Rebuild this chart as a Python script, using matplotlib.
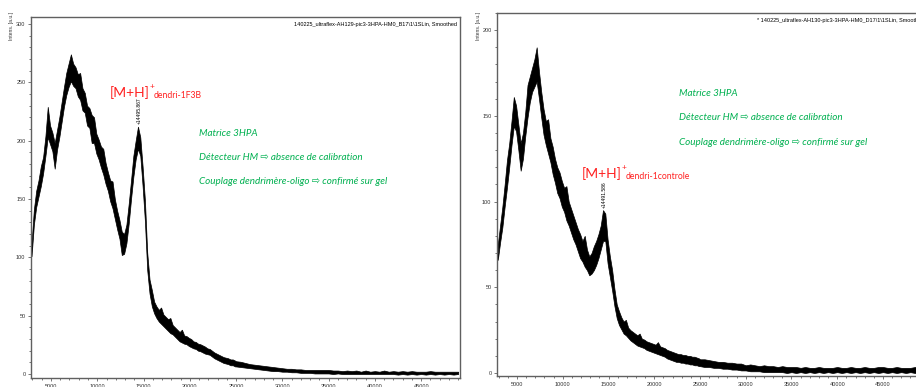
import numpy as np
from matplotlib import pyplot as plt
from matplotlib.ticker import MultipleLocator

W, H = 916, 387

# m/z sampling grid (dense part, then tail)
mz_dense = np.arange(2900, 25000, 250)
mz_tail = np.arange(25000, 49100, 500)
mz = np.concatenate([mz_dense, mz_tail])

# left spectrum: AH129 (dendri-1F3B), low / high edge of the noisy trace
left_lo = [101, 128, 143, 152, 161, 172, 187, 203, 197, 191, 176, 192, 203, 216, 229, 239,
           246, 251, 247, 245, 238, 235, 226, 224, 213, 211, 198, 198, 189, 184, 177, 171,
           163, 157, 148, 142, 133, 124, 116, 102, 103, 112, 129, 150, 169, 184, 193, 187,
           161, 131, 89, 69, 58, 52, 48, 45, 43, 41, 39, 37, 35, 34, 32, 30,
           28, 27, 26, 25.5, 24, 23, 22, 21.5, 20, 19.5, 18.5, 17.5, 17, 16.5, 15, 13.5,
           12.5, 11.5, 10.5, 9.5, 9, 8.5, 7.5, 7.5, 6.5,
           6.5, 6, 5.5, 5, 4.5, 4, 3.5, 3, 2.5, 2.5, 2, 2, 1.5, 1.5, 1, 1,
           1, 0.5, 0.5, 0.5, 0.5, 0, 0.5, 0, 0, 0, 0, 0, 0, 0, 0, 0,
           0, 0, 0, -0.5, 0, -0.5, 0, -0.5, 0, -0.5, 0, -0.5, 0, -0.5, 0, -0.5, 0]
left_hi = [112, 141, 157, 166, 178, 186, 204, 229, 213, 207, 198, 209, 220, 233, 246, 258,
           266, 274, 266, 263, 257, 258, 245, 241, 230, 228, 222, 220, 206, 201, 195, 193,
           181, 173, 166, 165, 150, 140, 132, 122, 120, 128, 146, 166, 187, 200, 212, 203,
           178, 149, 104, 81, 72, 62, 58, 55, 57, 51, 49, 47, 48, 42, 40, 38,
           36, 38, 33, 32.5, 31, 30, 28, 27.5, 26, 25.5, 24.5, 23.5, 22, 21.5, 20, 18.5,
           17.5, 16.5, 15.5, 14.5, 14, 13.5, 12.5, 12.5, 11.5,
           11, 10.5, 9.5, 8.5, 8, 7.5, 7, 6.5, 6, 5.5, 5, 4.5, 4.5, 4, 4, 3.5,
           3.5, 3.5, 3.5, 3.5, 3.5, 3, 3, 2.5, 3, 2.5, 3, 2, 3, 2, 2.5, 2,
           3, 2, 2.5, 2, 2.5, 2, 2.5, 2, 2, 2, 2.5, 2, 2, 2, 2, 2, 2]

# right spectrum: AH130 (dendri-1controle)
right_lo = [66, 76, 85, 97, 108, 120, 133, 144, 141, 130, 118, 125, 138, 149, 158, 164,
            167, 170, 160, 149, 139, 133, 128, 123, 116, 111, 105, 102, 97, 94, 89, 86,
            82, 78, 75, 71, 67, 65, 62, 60, 57, 58, 60, 63, 67, 72, 77, 77,
            64, 56, 48, 39, 32, 28, 25.5, 23, 22, 20.5, 19, 18, 17, 16, 15.5, 15,
            14.5, 13.5, 13, 12.5, 12, 11.5, 11, 10.5, 10, 9.5, 8.5, 8, 7.5, 7, 6.5, 6.5,
            6, 6, 5.5, 5.5, 5, 5, 4.5, 4.5, 4,
            4, 3.5, 3.5, 3, 3, 2.5, 2.5, 2, 2, 1.5, 1.5, 1, 1, 1, 0.5, 0.5,
            0.5, 0.5, 0.5, 0, 0.5, 0, 0.5, 0, 0.5, 0, 0.5, 0, 0.5, 0, 0.5, 0,
            0.5, 0, 0.5, 0, 0.5, 0, 0.5, 0, 0.5, 0, 0.5, 0, 0.5, 0, 0.5, 0, 0.5]
right_hi = [75, 86, 97, 110, 124, 134, 147, 161, 156, 145, 134, 140, 152, 168, 173, 178,
            183, 190, 176, 164, 154, 147, 148, 137, 132, 125, 120, 117, 112, 108, 109, 100,
            96, 92, 88, 84, 81, 77, 80, 72, 68, 70, 74, 77, 81, 86, 95, 93,
            78, 68, 60, 49, 40, 36, 32.5, 30, 31, 26.5, 25, 24, 23, 22, 23, 20,
            19.5, 18.5, 18, 17.5, 17, 16.5, 18, 15.5, 15, 14.5, 13.5, 13, 12.5, 12, 11.5, 11,
            11, 10.5, 10.5, 10, 10, 9.5, 9.5, 9, 8.5,
            8, 8, 7.5, 7, 6.5, 6.5, 6, 6, 5.5, 5.5, 4.5, 5, 4.5, 4, 4.5, 4,
            4, 3.5, 4, 3.5, 3.5, 3.5, 3, 3.5, 3, 3, 3.5, 3, 3, 3, 3.5, 3,
            3, 3.5, 3, 3, 3.5, 3, 3, 3.5, 3.5, 3, 3, 3.5, 3, 3, 3, 3.5, 3]

titles = ["140225_ultraflex-AH129-pic3-3HPA-HM0_B17\\1\\1SLin, Smoothed",
          "* 140225_ultraflex-AH130-pic3-3HPA-HM0_D17\\1\\1SLin, Smoothed"]
peaks = [(14495.867, 213), (14491.586, 95)]
species = ["dendri-1F3B", "dendri-1controle"]
notes = ["Matrice 3HPA",
         "Détecteur HM \u21e8 absence de calibration",
         "Couplage dendrimère-oligo \u21e8 confirmé sur gel"]

GREEN = '#00B050'
RED = '#FF2020'
SPINE = '#606060'
CAL = ['Lato', 'DejaVu Sans']

fig = plt.figure(figsize=(W / 100, H / 100), dpi=100)


def box(x0, y0, x1, y1):
    # pixel box -> figure fraction rect
    return [x0 / W, 1 - y1 / H, (x1 - x0) / W, (y1 - y0) / H]


def ftext(x, y, s, **kw):
    return fig.text(x / W, 1 - y / H, s, **kw)


def style(ax, ymajor):
    ax.yaxis.set_major_locator(MultipleLocator(ymajor))
    ax.yaxis.set_minor_locator(MultipleLocator(10))
    ax.xaxis.set_major_locator(MultipleLocator(5000))
    ax.xaxis.set_minor_locator(MultipleLocator(1000))
    for sp in ax.spines.values():
        sp.set_color(SPINE)
        sp.set_linewidth(1.0)
    ax.tick_params(which='both', direction='out', color=SPINE, width=0.6,
                   labelsize=4, labelcolor='#333333', pad=1.5)
    ax.tick_params(which='major', length=2.5)
    ax.tick_params(which='minor', length=1.5)
    for lab in ax.get_xticklabels() + ax.get_yticklabels():
        lab.set_family('Liberation Sans')


def spectrum(ax, lo, hi):
    # noisy trace drawn as a band between its low and high edges
    ax.fill_between(mz, lo, hi, facecolor='black', edgecolor='black', lw=0.5)


# left panel
ax1 = fig.add_axes(box(31, 17, 460, 378))
spectrum(ax1, left_lo, left_hi)
ax1.set_xlim(2840, 49200)
ax1.set_ylim(-3.4, 306)
style(ax1, 50)
ax1.text(0.994, 0.985, titles[0], transform=ax1.transAxes, ha='right', va='top',
         fontsize=4, family='Liberation Sans')
ax1.text(peaks[0][0], peaks[0][1] + 1, "+%.3f" % peaks[0][0], rotation=90,
         ha='center', va='bottom', fontsize=3.6, family='Liberation Sans')

# right panel (runs past the right edge of the picture)
ax2 = fig.add_axes(box(497, 13, 926, 376))
spectrum(ax2, right_lo, right_hi)
ax2.set_xlim(2814, 49700)
ax2.set_ylim(-1.75, 210)
style(ax2, 50)
ax2.text(0.605, 0.985, titles[1], transform=ax2.transAxes, ha='left', va='top',
         fontsize=4, family='Liberation Sans')
ax2.text(peaks[1][0], peaks[1][1] + 1, "+%.3f" % peaks[1][0], rotation=90,
         ha='center', va='bottom', fontsize=3.6, family='Liberation Sans')

# y labels
for x in (12, 478):
    ftext(x, 12, "Intens. [a.u.]", rotation=90, ha='center', va='top',
          fontsize=3.6, family='Liberation Sans', color='#333333')

# red species labels
for (x, y), name in zip([(110, 97), (582, 178)], species):
    ftext(x, y, "[M+H]", ha='left', va='baseline', fontsize=10, color=RED, family=CAL)
    ftext(x + 40, y - 8, "+", ha='left', va='baseline', fontsize=6, color=RED, family=CAL)
    ftext(x + 44, y + 1, name, ha='left', va='baseline', fontsize=6.2, color=RED, family=CAL)

# green notes
for x, y0 in [(199, 134), (679, 94)]:
    for i, s in enumerate(notes):
        ftext(x, y0 + 24 * i, s, ha='left', va='center', fontsize=7.1, color=GREEN,
              style='italic', family=CAL)

fig.savefig('out.png', dpi=100)
